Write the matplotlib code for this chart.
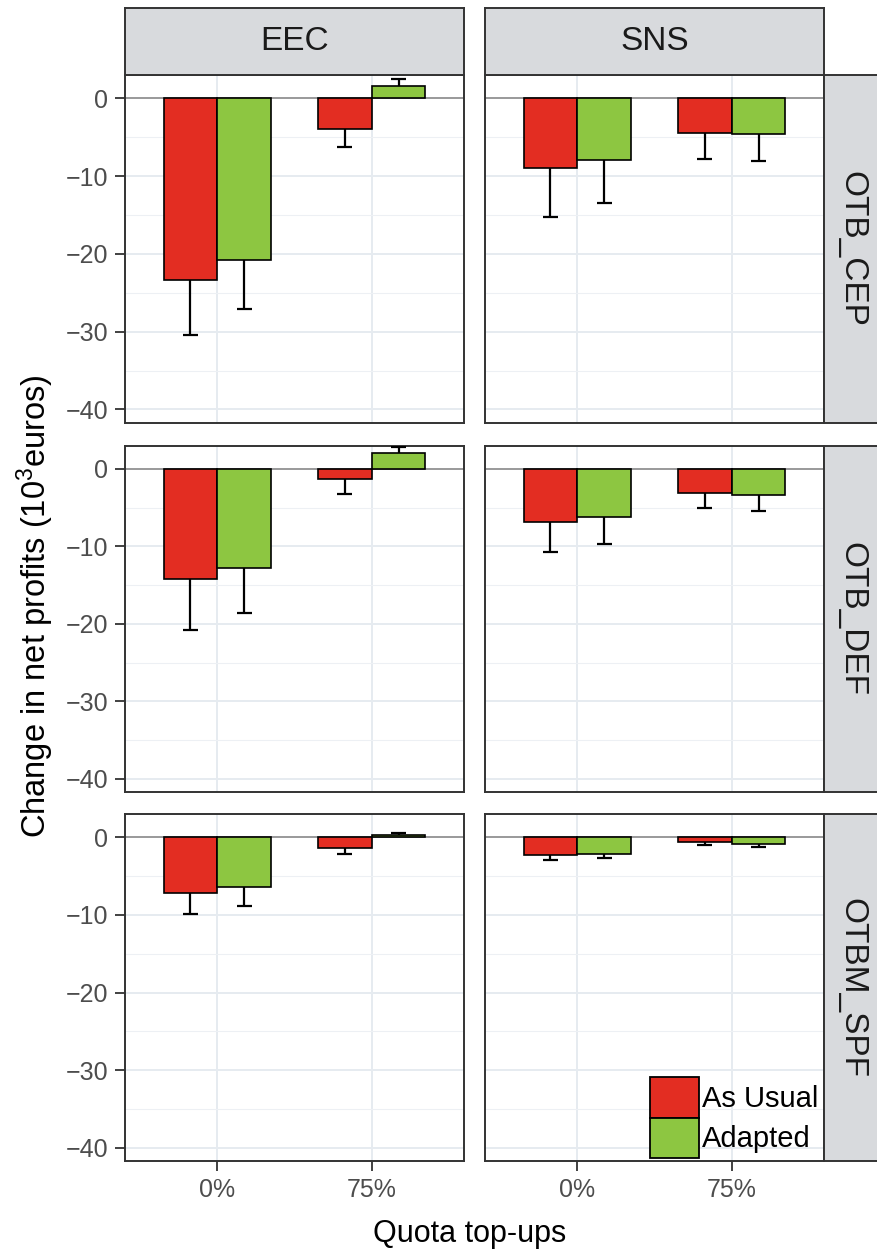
import numpy as np
import matplotlib.pyplot as plt
from matplotlib.patches import Patch

plt.rcParams['font.family'] = ['Liberation Sans', 'DejaVu Sans']
plt.rcParams['mathtext.fontset'] = 'custom'
plt.rcParams['mathtext.rm'] = 'Liberation Sans'
plt.rcParams['mathtext.it'] = 'Liberation Sans:italic'

W, H = 877, 1251

fleets = ['OTB_CEP', 'OTB_DEF', 'OTBM_SPF']
areas = ['EEC', 'SNS']
quota = ['0%', '75%']
scenarios = ['As Usual', 'Adapted']
colours = ['#E32D22', '#8DC641']

# [fleet][area][quota]
as_usual = [[[-23.4, -3.9], [-9.0, -4.4]],
            [[-14.2, -1.3], [-6.9, -3.1]],
            [[-7.2, -1.4], [-2.3, -0.55]]]
as_usual_err = [[[7.0, 2.4], [6.2, 3.4]],
                [[6.6, 2.0], [3.9, 2.0]],
                [[2.7, 0.7], [0.6, 0.5]]]
adapted = [[[-20.8, 1.6], [-7.9, -4.6]],
           [[-12.8, 2.0], [-6.2, -3.4]],
           [[-6.45, 0.35], [-2.15, -0.9]]]
adapted_err = [[[6.3, 0.85], [5.6, 3.5]],
               [[5.8, 0.8], [3.45, 2.05]],
               [[2.35, 0.2], [0.5, 0.35]]]

fig = plt.figure(figsize=(W / 100, H / 100), dpi=100)


def px_axes(x0, y0, x1, y1):
    return fig.add_axes([x0 / W, 1 - y1 / H, (x1 - x0) / W, (y1 - y0) / H])


col_x = [(125, 464), (485, 824)]
row_y = [(75, 422.7), (445.5, 792), (814, 1161)]
border = '#333333'
strip_bg = '#D8DADD'

axes = [[None, None] for _ in fleets]
for i, fleet in enumerate(fleets):
    for j, area in enumerate(areas):
        ax = px_axes(col_x[j][0], row_y[i][0], col_x[j][1], row_y[i][1])
        axes[i][j] = ax
        ax.set_xlim(0.4, 2.6)
        ax.set_ylim(-41.7, 3.0)
        ax.set_xticks([1, 2])
        ax.set_xticklabels(quota)
        ax.set_yticks([0, -10, -20, -30, -40])
        ax.set_yticks([-5, -15, -25, -35], minor=True)
        ax.set_axisbelow(True)
        ax.grid(which='major', color='#E6EBF0', lw=1.4)
        ax.grid(which='minor', axis='y', color='#EDF0F4', lw=0.8)
        ax.axhline(0, color='#8C8C8C', lw=1.2, zorder=1.5)

        x = np.arange(1, 3)
        series = [(as_usual, as_usual_err), (adapted, adapted_err)]
        for k, (vals, errs) in enumerate(series):
            v = np.array(vals[i][j])
            e = np.array(errs[i][j])
            pos = x + (k - 0.5) * 0.35
            ax.bar(pos, v, width=0.35, color=colours[k], edgecolor='black',
                   linewidth=1.2, zorder=2)
            ends = v + np.sign(v) * e
            ax.vlines(pos, v, ends, color='black', lw=1.6, zorder=3)
            ax.hlines(ends, pos - 0.05, pos + 0.05, color='black', lw=1.6, zorder=3)

        for s in ax.spines.values():
            s.set_color(border)
            s.set_linewidth(1.4)
        ax.tick_params(which='minor', length=0)
        ax.tick_params(which='major', length=7, width=1.3, color=border,
                       labelsize=18, labelcolor='#4D4D4D', pad=5)
        if j > 0:
            ax.tick_params(axis='y', labelleft=False, length=0)
        if i < len(fleets) - 1:
            ax.tick_params(axis='x', labelbottom=False, length=0)

        # facet strips
        if i == 0:
            st = px_axes(col_x[j][0], 8, col_x[j][1], 75)
            st.set_facecolor(strip_bg)
            st.set_xticks([])
            st.set_yticks([])
            for s in st.spines.values():
                s.set_color(border)
                s.set_linewidth(1.4)
            st.text(0.5, 0.5, area, ha='center', va='center', fontsize=24,
                    color='#1A1A1A', transform=st.transAxes)
        if j == len(areas) - 1:
            st = px_axes(824, row_y[i][0], 884, row_y[i][1])
            st.set_facecolor(strip_bg)
            st.set_xticks([])
            st.set_yticks([])
            for s in st.spines.values():
                s.set_color(border)
                s.set_linewidth(1.4)
            st.text(28 / 60, 0.5, fleet, ha='center', va='center', fontsize=24,
                    rotation=270, color='#1A1A1A', transform=st.transAxes)

handles = [Patch(facecolor=c, edgecolor='black', lw=1.3) for c in colours]
axes[2][1].legend(handles, scenarios, loc='lower left', bbox_to_anchor=(0.487, 0.009),
                  frameon=False, fontsize=21, handlelength=1.68, handleheight=1.75,
                  labelspacing=0, handletextpad=0.1, borderpad=0, borderaxespad=0)

fig.text(35 / W, 1 - 606 / H, r'Change in net profits (10$^3$euros)', rotation=90,
         ha='center', va='center', fontsize=23.5)
fig.text(470 / W, 1 - 1242 / H, 'Quota top-ups', ha='center', va='baseline', fontsize=22)

fig.savefig('out.png', dpi=100)
